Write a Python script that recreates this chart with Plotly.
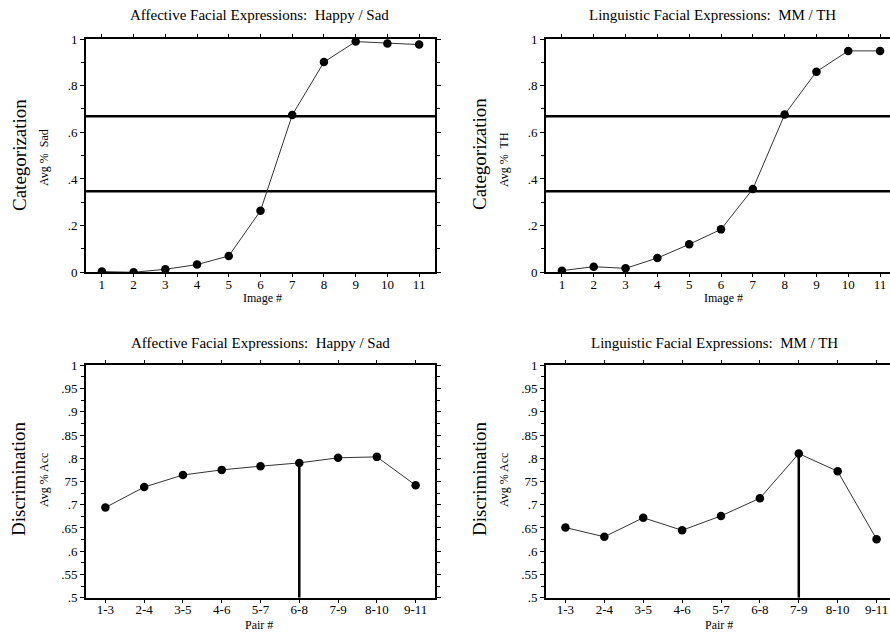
import plotly.graph_objects as go

# ---------------- data ----------------
image_nums = [1, 2, 3, 4, 5, 6, 7, 8, 9, 10, 11]
affective_cat = [0.003, 0.0, 0.013, 0.033, 0.07, 0.264, 0.674, 0.901, 0.989, 0.981, 0.976]
linguistic_cat = [0.007, 0.024, 0.017, 0.061, 0.12, 0.184, 0.357, 0.676, 0.86, 0.949, 0.949]
cat_thresholds = [0.669, 0.347]

pairs = ["1-3", "2-4", "3-5", "4-6", "5-7", "6-8", "7-9", "8-10", "9-11"]
affective_disc = [0.694, 0.738, 0.764, 0.775, 0.783, 0.790, 0.801, 0.803, 0.742]
linguistic_disc = [0.651, 0.631, 0.672, 0.645, 0.676, 0.714, 0.810, 0.772, 0.626]
affective_peak = "6-8"
linguistic_peak = "7-9"

cat_ticks = [0, 0.2, 0.4, 0.6, 0.8, 1.0]
cat_ticktext = ["0", ".2", ".4", ".6", ".8", "1"]
disc_ticks = [0.5, 0.55, 0.6, 0.65, 0.7, 0.75, 0.8, 0.85, 0.9, 0.95, 1.0]
disc_ticktext = [".5", ".55", ".6", ".65", ".7", "75", ".8", ".85", ".9", ".95", "1"]

title_aff = "Affective Facial Expressions: \u00a0Happy / Sad"
title_ling = "Linguistic Facial Expressions: \u00a0MM / TH"

# ---------------- figure ----------------
W, H = 890, 635
OFF = 8  # page body margin
FONT = "Liberation Serif, Times New Roman, serif"

def px(x):
    return (x - OFF) / W

def py(y):
    return 1 - (y - OFF) / H

xL = [px(86), px(435)]
xR = [px(546), px(896)]
yT = [py(272.3), py(39)]
yB = [py(597.7), py(365.3)]

fig = go.Figure()

line_style = dict(color="#333333", width=1)
marker_style = dict(color="black", size=8.5)

def add_series(x, y, xa, ya):
    fig.add_trace(go.Scatter(x=x, y=y, mode="lines+markers", line=line_style,
                             marker=marker_style, xaxis=xa, yaxis=ya,
                             showlegend=False, hoverinfo="x+y"))

add_series(image_nums, affective_cat, "x", "y")
add_series(image_nums, linguistic_cat, "x2", "y2")
add_series(pairs, affective_disc, "x3", "y3")
add_series(pairs, linguistic_disc, "x4", "y4")

# vertical peak lines from data
for cat, xs, ys, xa, ya in [(affective_peak, pairs, affective_disc, "x3", "y3"),
                            (linguistic_peak, pairs, linguistic_disc, "x4", "y4")]:
    v = ys[xs.index(cat)]
    fig.add_trace(go.Scatter(x=[cat, cat], y=[0.5, v], mode="lines",
                             line=dict(color="black", width=2.5),
                             xaxis=xa, yaxis=ya, showlegend=False, hoverinfo="skip"))

# horizontal category boundaries
for xa, ya in [("x", "y"), ("x2", "y2")]:
    for t in cat_thresholds:
        fig.add_shape(type="line", xref=f"{xa} domain", yref=ya, x0=0, x1=1, y0=t, y1=t,
                      line=dict(color="black", width=2.5), layer="below")

axis_common = dict(showline=True, linecolor="black", linewidth=2, ticks="outside",
                   tickcolor="black", tickwidth=1, ticklen=3, showgrid=False,
                   zeroline=False, tickfont=dict(family=FONT, size=13, color="black"),
                   automargin=False, fixedrange=True, mirror="allticks")

def xaxis(domain, anchor, rng, cat=False):
    d = dict(axis_common, domain=domain, anchor=anchor, range=rng, ticklabelstandoff=-4,
             ticklabeloverflow="allow")
    if cat:
        d["type"] = "category"
    else:
        d["tickvals"] = image_nums
        d["ticktext"] = [str(v) for v in image_nums]
    return d

def yaxis(domain, anchor, rng, tv, tt, minor_d):
    d = dict(axis_common, domain=domain, anchor=anchor, range=rng, tickvals=tv,
             ticktext=tt, ticklen=4,
             minor=dict(ticks="outside", ticklen=3, tickcolor="black", tickwidth=1,
                        dtick=minor_d, showgrid=False))
    return d

fig.update_layout(
    width=W, height=H,
    margin=dict(l=0, r=0, t=0, b=0),
    paper_bgcolor="white", plot_bgcolor="white",
    font=dict(family=FONT, color="black"),
    xaxis=xaxis(xL, "y", [0.5, 11.5]),
    yaxis=yaxis(yT, "x", [0, 1], cat_ticks, cat_ticktext, 0.1),
    xaxis2=xaxis(xR, "y2", [0.5, 11.5]),
    yaxis2=yaxis(yT, "x2", [0, 1], cat_ticks, cat_ticktext, 0.1),
    xaxis3=xaxis(xL, "y3", [-0.5, 8.5], cat=True),
    yaxis3=yaxis(yB, "x3", [0.5, 1], disc_ticks, disc_ticktext, 0.025),
    xaxis4=xaxis(xR, "y4", [-0.5, 8.5], cat=True),
    yaxis4=yaxis(yB, "x4", [0.5, 1], disc_ticks, disc_ticktext, 0.025),
)

def ann(text, x, y, size, angle=0):
    fig.add_annotation(text=text, x=px(x), y=py(y), xref="paper", yref="paper",
                       showarrow=False, textangle=angle,
                       font=dict(family=FONT, size=size, color="black"),
                       xanchor="center", yanchor="middle")

ann(title_aff, 259, 15, 15)
ann(title_ling, 712, 15, 15)
ann(title_aff, 260, 343, 15)
ann(title_ling, 714, 343, 15)

ann("Categorization", 19, 155, 19, -90)
ann("Categorization", 480, 154, 19, -90)
ann("Avg %\u00a0 Sad", 44, 158, 12, -90)
ann("Avg %\u00a0 TH", 504, 159, 12, -90)

ann("Discrimination", 19, 479, 19, -90)
ann("Discrimination", 480, 479, 19, -90)
ann("Avg % Acc", 44, 480, 12, -90)
ann("Avg % Acc", 504, 480, 12, -90)

ann("Image #", 263, 298, 12)
ann("Image #", 723, 298, 12)
ann("Pair #", 259, 625, 12)
ann("Pair #", 719, 625, 12)

fig.write_html("out.html",
               post_script="document.documentElement.style.overflow='hidden';"
                           "document.body.style.overflow='visible';"
                           "document.body.style.width='920px';")
